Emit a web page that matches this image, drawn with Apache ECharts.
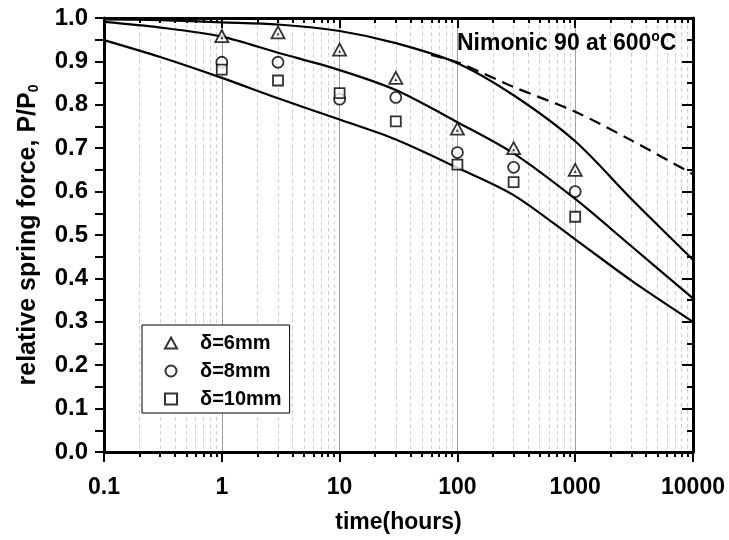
<!DOCTYPE html>
<html><head><meta charset="utf-8">
<script src="https://cdn.jsdelivr.net/npm/echarts@6/dist/echarts.min.js"></script>
<style>html,body{margin:0;padding:0;background:#fff}#c{width:729px;height:540px}</style>
</head><body><div id="c"></div>
<script>
// ---- data ----
const xTickLabels = ['0.1', '1', '10', '100', '1000', '10000'];
const seriesNames = ['δ=6mm', 'δ=8mm', 'δ=10mm'];
const tExp = [1, 3, 10, 30, 100, 300, 1000];
const d6 = [0.958, 0.967, 0.927, 0.862, 0.745, 0.700, 0.650];
const d8 = [0.898, 0.898, 0.813, 0.817, 0.690, 0.656, 0.600];
const d10 = [0.881, 0.856, 0.827, 0.762, 0.662, 0.622, 0.542];
const tCurve = [0.1, 0.3, 1, 3, 10, 30, 100, 300, 1000, 3000, 10000];
const curveA = [0.997, 0.995, 0.990, 0.985, 0.970, 0.942, 0.896, 0.822, 0.716, 0.583, 0.443];
const curveB = [0.991, 0.978, 0.957, 0.920, 0.880, 0.834, 0.760, 0.688, 0.583, 0.474, 0.354];
const curveC = [0.949, 0.910, 0.862, 0.815, 0.766, 0.720, 0.655, 0.592, 0.490, 0.395, 0.300];
const tDash = [60, 100, 300, 1000, 3000, 10000];
const curveD = [0.915, 0.898, 0.841, 0.784, 0.718, 0.640];
const annotation = 'Nimonic 90 at 600{sup|o}C';
const xTitle = 'time(hours)';
const yTitle = 'relative spring force, P/P{sub|0}';

// ---- chart ----
const FONT = '"Liberation Sans", Arial, sans-serif';
const pair = (xs, ys) => xs.map((x, i) => [x, ys[i]]);
const chart = echarts.init(document.getElementById('c'), null, {renderer: 'canvas'});
const axisLineStyle = {color: '#000', width: 3};
const tickStyle = {color: '#000', width: 2};
const labelStyle = {fontFamily: FONT, fontWeight: 'bold', fontSize: 23, color: '#000'};

const lineSeries = (name, xs, ys, dashed) => ({
  name, type: 'line', data: pair(xs, ys), symbol: 'none', smooth: 0.3,
  lineStyle: {color: '#000', width: 2.2, type: dashed ? [12, 7] : 'solid'}, z: 3, silent: true
});
const scatterSeries = (name, ys, symbol, size) => ({
  name, type: 'scatter', data: pair(tExp, ys), symbol, symbolSize: size,
  itemStyle: {color: '#fff', borderColor: '#000', borderWidth: 1.8}, z: 4
});

const option = {
  animation: false,
  backgroundColor: '#fff',
  title: {
    text: annotation, left: 457, top: 30, padding: 0,
    textStyle: {fontFamily: FONT, fontWeight: 'bold', fontSize: 23, color: '#000', lineHeight: 28,
      rich: {sup: {fontFamily: FONT, fontWeight: 'bold', fontSize: 14, verticalAlign: 'top', lineHeight: 12, color: '#000'}}}
  },
  legend: {
    orient: 'vertical', left: 142, top: 325,
    data: seriesNames,
    padding: [8, 8, 4, 22], itemGap: 8, itemWidth: 12, itemHeight: 11,
    borderColor: '#000', borderWidth: 1, backgroundColor: '#fff',
    textStyle: {fontFamily: FONT, fontWeight: 'bold', fontSize: 20, lineHeight: 20, color: '#000', padding: [0, 0, 0, 18]}
  },
  grid: {left: 104, right: 36, top: 18, bottom: 88},
  xAxis: [{
    type: 'log', logBase: 10, min: 0.1, max: 10000, position: 'bottom',
    name: xTitle, nameLocation: 'middle', nameGap: 59,
    nameTextStyle: labelStyle,
    axisLine: {lineStyle: axisLineStyle, onZero: false},
    axisTick: {inside: false, length: 10, lineStyle: tickStyle},
    minorTick: {show: true, splitNumber: 9, length: 5, lineStyle: tickStyle},
    splitLine: {show: true, lineStyle: {color: '#a0a0a0', width: 1}},
    minorSplitLine: {show: true, lineStyle: {color: '#d0d0d0', width: 1, type: [4, 3]}},
    axisLabel: Object.assign({margin: 24, formatter: v => xTickLabels[Math.round(Math.log10(v)) + 1]}, labelStyle)
  }, {
    type: 'log', logBase: 10, min: 0.1, max: 10000, position: 'top',
    axisLine: {lineStyle: axisLineStyle, onZero: false},
    axisTick: {inside: true, length: 10, lineStyle: tickStyle},
    minorTick: {show: true, splitNumber: 9, length: 5, lineStyle: tickStyle},
    splitLine: {show: false}, axisLabel: {show: false}
  }],
  yAxis: [{
    type: 'value', min: 0, max: 1, interval: 0.1, position: 'left',
    name: yTitle, nameLocation: 'middle', nameGap: 63,
    nameTextStyle: Object.assign({}, labelStyle, {fontSize: 25,
      rich: {sub: {fontFamily: FONT, fontWeight: 'bold', fontSize: 14, verticalAlign: 'bottom', color: '#000'}}}),
    axisLine: {lineStyle: axisLineStyle, onZero: false},
    axisTick: {inside: false, length: 9, lineStyle: tickStyle},
    minorTick: {show: true, splitNumber: 2, length: 9, lineStyle: tickStyle},
    splitLine: {show: false},
    axisLabel: Object.assign({margin: 16, formatter: v => v.toFixed(1)}, labelStyle, {fontSize: 24})
  }, {
    type: 'value', min: 0, max: 1, interval: 0.1, position: 'right',
    axisLine: {lineStyle: axisLineStyle, onZero: false},
    axisTick: {inside: true, length: 11, lineStyle: tickStyle},
    minorTick: {show: true, splitNumber: 2, length: 6, lineStyle: tickStyle},
    splitLine: {show: false}, axisLabel: {show: false}
  }],
  series: [
    lineSeries('A', tCurve, curveA, false),
    lineSeries('B', tCurve, curveB, false),
    lineSeries('C', tCurve, curveC, false),
    lineSeries('D', tDash, curveD, true),
    scatterSeries(seriesNames[0], d6, 'triangle', [13, 12]),
    scatterSeries(seriesNames[1], d8, 'circle', 11),
    scatterSeries(seriesNames[2], d10, 'rect', 10),
    {name: 'dot', type: 'scatter', data: pair(tExp, d6), symbol: 'triangle', symbolSize: 3,
     symbolOffset: [0, 1.5], itemStyle: {color: '#000'}, z: 5, silent: true}
  ]
};
chart.setOption(option);
</script>
</body></html>
